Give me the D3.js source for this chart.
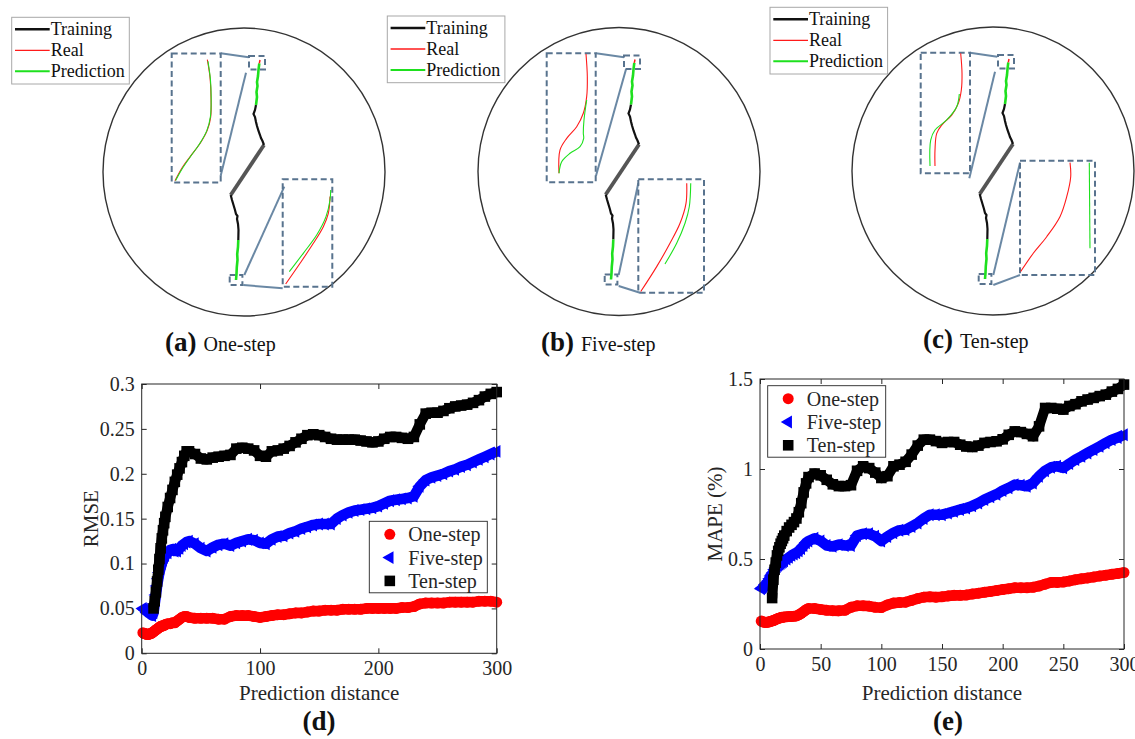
<!DOCTYPE html>
<html>
<head>
<meta charset="utf-8">
<script src="https://cdn.jsdelivr.net/npm/d3@7"></script>
<style>
body { margin: 0; background: #fff; }
svg text { font-family: "Liberation Serif", "Times New Roman", serif; }
</style>
</head>
<body>
<svg id="fig" width="1135" height="739"></svg>
<script>
// ---------------- data for (d) and (e) ----------------
var distance = [1,2,3,4,5,6,7,8,9,10,11,12,13,14,15,16,17,18,19,20,
    22,24,26,28,30,32,34,36,38,40,
    45,50,55,60,65,70,75,80,85,90,95,100,
    105,110,115,120,125,130,135,140,145,150,
    155,160,165,170,175,180,185,190,195,200,
    205,210,215,220,225,230,235,240,245,250,
    255,260,265,270,275,280,285,290,295,300]

var rmseOne = [.023,.022,.022,.021,.021,.021,.022,.022,.023,.024,.025,.026,.027,.028,.029,.030,.030,.031,.031,.032,
    .033,.033,.034,.034,.036,.038,.040,.041,.041,.040,
    .039,.039,.039,.039,.038,.038,.041,.042,.042,.042,.041,.040,
    .041,.042,.043,.043,.044,.045,.045,.046,.047,.047,
    .048,.048,.048,.049,.049,.049,.049,.050,.050,.050,
    .050,.050,.050,.051,.051,.052,.055,.056,.056,.056,
    .056,.057,.057,.057,.057,.057,.058,.058,.058,.057]
var rmseFive = [.050,.049,.048,.047,.046,.045,.044,.043,.042,.045,.055,.065,.075,.083,.090,.095,.100,.104,.107,.109,
    .112,.115,.116,.114,.114,.117,.120,.122,.124,.125,
    .122,.117,.114,.118,.121,.122,.120,.123,.125,.127,.126,.123,
    .122,.127,.130,.131,.134,.136,.139,.141,.143,.144,
    .144,.144,.150,.154,.157,.159,.160,.161,.162,.164,
    .167,.170,.171,.172,.173,.175,.186,.193,.196,.198,
    .200,.203,.205,.208,.210,.213,.216,.219,.222,.225]
var rmseTen = [null,null,null,null,null,null,null,null,null,.050,.058,.068,.080,.093,.105,.117,.128,.137,.145,.152,
    .163,.173,.182,.191,.199,.206,.213,.220,.225,.225,
    .222,.217,.216,.218,.219,.220,.221,.228,.229,.228,.226,.220,
    .219,.225,.226,.228,.231,.235,.239,.243,.244,.243,
    .241,.239,.238,.238,.238,.238,.237,.236,.235,.236,
    .239,.241,.241,.240,.239,.241,.255,.267,.268,.268,
    .270,.273,.275,.276,.277,.279,.282,.286,.289,.291]

var mapeOne = [.155,.152,.150,.148,.148,.149,.150,.152,.154,.156,.158,.161,.164,.167,.170,.172,.174,.176,.177,.178,
    .179,.180,.181,.182,.184,.190,.198,.208,.218,.225,
    .225,.220,.215,.213,.212,.215,.232,.240,.240,.238,.232,.230,
    .245,.255,.258,.260,.270,.280,.288,.290,.288,.290,
    .295,.298,.298,.300,.305,.310,.315,.320,.325,.330,
    .335,.340,.340,.340,.343,.350,.360,.370,.370,.372,
    .378,.385,.390,.395,.400,.405,.410,.415,.420,.425]
var mapeFive = [.335,.340,.345,.352,.360,.368,.378,.390,.405,.415,.425,.440,.450,.458,.465,.470,.475,.480,.485,.490,
    .500,.510,.520,.528,.535,.545,.558,.575,.590,.600,
    .615,.600,.575,.570,.580,.575,.575,.630,.640,.640,.626,.600,
    .625,.645,.660,.663,.680,.700,.725,.746,.746,.746,
    .755,.765,.775,.783,.795,.811,.830,.845,.860,.880,
    .895,.913,.910,.904,.922,.960,.990,1.010,1.015,1.006,
    1.030,1.052,1.070,1.089,1.108,1.126,1.145,1.163,1.175,1.190]
var mapeTen = [null,null,null,null,null,null,null,null,null,.283,.385,.440,.480,.520,.545,.565,.585,.600,.615,.630,
    .655,.675,.690,.705,.725,.760,.810,.870,.920,.955,
    .975,.965,.940,.915,.905,.905,.910,.990,1.015,1.005,.980,.950,
    .960,1.015,1.024,1.040,1.080,1.130,1.163,1.163,1.155,1.145,
    1.150,1.150,1.135,1.125,1.122,1.130,1.145,1.150,1.154,1.165,
    1.190,1.209,1.205,1.195,1.182,1.237,1.339,1.339,1.335,1.330,
    1.350,1.360,1.376,1.386,1.395,1.405,1.413,1.430,1.445,1.469]

var ticksDistD = [0,100,200,300]
var ticksDistE = [0,50,100,150,200,250,300]
var ticksRmse = [0,0.05,0.1,0.15,0.2,0.25,0.3]
var labelsRmse = ["0","0.05","0.1","0.15","0.2","0.25","0.3"]
var ticksMape = [0,0.5,1,1.5]
var labelsMape = ["0","0.5","1","1.5"]
var seriesNames = ["One-step","Five-step","Ten-step"]
var trackNames = ["Training","Real","Prediction"]

// ---------------- trajectory (map units, origin = circle centre) ----------------
var trainTop = [[12,-67],[11,-62],[9.5,-58],[11,-55],[12,-50],[13,-46],[14.5,-41],[16,-37],[17,-34],[18.5,-31],[20,-27]]
var trainGap = [[20,-27],[-13.3,23]]
var trainBottom = [[-13.3,23],[-12,28],[-10.5,33],[-9,38],[-8,42],[-6.5,44],[-7,47],[-6,52],[-5.5,58],[-5.7,68]]
var predTop = [[15.3,-108.7],[14.5,-102],[14,-96],[13,-90],[13.5,-86],[12.5,-80],[13,-75],[12,-67]]
var predBottom = [[-5.7,68],[-6,75],[-6.8,82],[-6.5,88],[-7.2,95],[-7.5,102],[-8,108]]
var realTip = [[15.3,-108.7],[16,-112]]
var smallBoxTop = [5,-116,16,13.5]
var smallBoxBottom = [-14.3,103,12.7,10]

// zoom windows [x, y, w, h] and the lines that tie them to the small boxes
var zoomUpper = [[-72.3,-118.5,49,129],[-72.3,-118.2,49,129],[-72.3,-118.3,49.3,120.6]]
var zoomLower = [[38.7,7.3,49.6,107.4],[19.3,7.8,65.7,113.4],[27,-10.3,75,114.3]]
var links = [
    [[[-23.3,-118.7],[4.7,-114.7]],[[-23.3,3.7],[2,-99.3]],[[0.3,103],[40.3,14.7]],[[-0.7,113],[38.7,116.3]]],
    [[[-23,-118.2],[5,-114.2]],[[-23,4.2],[7,-102.2]],[[-0.3,103.5],[19.3,11.8]],[[-0.3,114.5],[21,121.2]]],
    [[[-23,-118.3],[4.3,-114.3]],[[-23.7,7.3],[2,-99.3]],[[0.3,104],[27,-8.3]],[[0.3,114],[27,104]]]
]
// curves inside the zoom windows, window units 0..1
var upperReal = [
    [[0.727,0.047],[0.781,0.182],[0.802,0.336],[0.796,0.491],[0.727,0.594],[0.578,0.698],[0.374,0.801],[0.204,0.891],[0.067,0.987]],
    [[0.802,0.005],[0.829,0.181],[0.816,0.336],[0.747,0.465],[0.612,0.569],[0.408,0.659],[0.271,0.75],[0.251,0.93]],
    [[0.811,0.005],[0.838,0.171],[0.824,0.309],[0.763,0.42],[0.629,0.517],[0.426,0.6],[0.325,0.669],[0.29,0.807],[0.29,0.94]]
]
var upperPred = [
    [[0.74,0.06],[0.79,0.2],[0.805,0.34],[0.79,0.49],[0.715,0.6],[0.57,0.7],[0.39,0.795],[0.22,0.89],[0.08,0.985]],
    [[0.816,0.362],[0.761,0.517],[0.747,0.62],[0.755,0.66],[0.68,0.724],[0.476,0.775],[0.306,0.84],[0.251,0.93]],
    [[0.783,0.342],[0.73,0.448],[0.527,0.558],[0.29,0.641],[0.203,0.724],[0.189,0.94]]
]
var lowerReal = [
    [[0.06,0.975],[0.35,0.782],[0.618,0.596],[0.819,0.441],[0.92,0.317],[0.954,0.161]],
    [[0.737,0.035],[0.726,0.212],[0.635,0.388],[0.482,0.564],[0.28,0.77],[0.037,0.99]],
    [[0.667,0.017],[0.676,0.14],[0.623,0.315],[0.533,0.49],[0.356,0.665],[0.177,0.81],[0.009,0.97]]
]
var lowerPred = [
    [[0.133,0.86],[0.415,0.689],[0.685,0.519],[0.873,0.348],[0.954,0.193],[0.968,0.1]],
    [[0.798,0.035],[0.776,0.242],[0.711,0.388],[0.584,0.564],[0.406,0.747]],
    [[0.924,0.017],[0.933,0.766]]
]
var panelLetters = ["(a)","(b)","(c)"]

// ---------------- layout ----------------
var svg = d3.select("#fig")
var panelLayout = [
    {cx: 244, cy: 172, legX: 11.7, legY: 17.3, capX: 165, capY: 351},
    {cx: 619, cy: 171.5, legX: 387.3, legY: 16, capX: 541, capY: 351},
    {cx: 993, cy: 171, legX: 770, legY: 7.3, capX: 923, capY: 348}
]
var boxColor = "#58738e"
var linkColor = "#6a88a4"
var green = "#1ee01e"
var red = "#ff1a1a"

function drawPanel(i) {
    var lay = panelLayout[i]
    var g = svg.append("g")
    var sx = d3.scaleLinear().domain([-141, 141]).range([lay.cx - 141, lay.cx + 141])
    var sy = d3.scaleLinear().domain([-144, 144]).range([lay.cy - 144, lay.cy + 144])
    var line = d3.line().x(d => sx(d[0])).y(d => sy(d[1]))

    g.append("ellipse")
        .attr("cx", sx(0)).attr("cy", sy(0))
        .attr("rx", sx(141) - sx(0)).attr("ry", sy(144) - sy(0))
        .attr("fill", "none").attr("stroke", "#333").attr("stroke-width", 1.4)

    // connectors
    g.selectAll(".lk").data(links[i]).join("path")
        .attr("d", line)
        .attr("fill", "none").attr("stroke", linkColor).attr("stroke-width", 2)

    // dashed boxes
    var rects = [smallBoxTop, smallBoxBottom, zoomUpper[i], zoomLower[i]]
    g.selectAll(".bx").data(rects).join("rect")
        .attr("x", d => sx(d[0])).attr("y", d => sy(d[1]))
        .attr("width", d => sx(d[0] + d[2]) - sx(d[0]))
        .attr("height", d => sy(d[1] + d[3]) - sy(d[1]))
        .attr("fill", "none").attr("stroke", boxColor).attr("stroke-width", 2)
        .attr("stroke-dasharray", "6,3.5")

    // curves inside the zoom windows
    function zoomCurve(box, pts, color, w) {
        var bx = d3.scaleLinear().domain([0, 1]).range([sx(box[0]), sx(box[0] + box[2])])
        var by = d3.scaleLinear().domain([0, 1]).range([sy(box[1]), sy(box[1] + box[3])])
        g.append("path")
            .attr("d", d3.line().curve(d3.curveCatmullRom).x(d => bx(d[0])).y(d => by(d[1]))(pts))
            .attr("fill", "none").attr("stroke", color).attr("stroke-width", w)
    }
    zoomCurve(zoomUpper[i], upperReal[i], red, 1.1)
    zoomCurve(zoomUpper[i], upperPred[i], green, 1.1)
    zoomCurve(zoomLower[i], lowerReal[i], red, 1.1)
    zoomCurve(zoomLower[i], lowerPred[i], green, 1.1)

    // trajectory
    g.append("path").attr("d", line(trainGap)).attr("fill", "none")
        .attr("stroke", "#555").attr("stroke-width", 3.8)
    g.selectAll(".tr").data([trainTop, trainBottom]).join("path")
        .attr("d", line).attr("fill", "none").attr("stroke", "#111").attr("stroke-width", 2.2)
    g.selectAll(".pr").data([predTop, predBottom]).join("path")
        .attr("d", line).attr("fill", "none").attr("stroke", green).attr("stroke-width", 2.6)
    g.append("path").attr("d", line(realTip)).attr("fill", "none")
        .attr("stroke", red).attr("stroke-width", 1.5)

    // legend
    var leg = g.append("g").attr("transform", "translate(" + lay.legX + "," + lay.legY + ")")
    leg.append("rect").attr("width", 117.6).attr("height", 66.7)
        .attr("fill", "#fff").attr("stroke", "#a8a8a8").attr("stroke-width", 1)
    var legColors = ["#111", red, green]
    var legWidths = [2.6, 1.3, 2]
    trackNames.forEach(function(nome, k) {
        var yy = 12 + k * 21
        leg.append("line").attr("x1", 3.3).attr("x2", 38).attr("y1", yy).attr("y2", yy)
            .attr("stroke", legColors[k]).attr("stroke-width", legWidths[k])
        leg.append("text").attr("x", 39).attr("y", yy + 6).attr("font-size", 18)
            .attr("fill", "#111").text(nome)
    })

    // caption
    var cap = svg.append("text").attr("x", lay.capX).attr("y", lay.capY).attr("fill", "#111")
    cap.append("tspan").attr("font-size", 27).attr("font-weight", "bold").text(panelLetters[i])
    cap.append("tspan").attr("font-size", 20).attr("dx", 7).text(seriesNames[i])
}

panelLayout.forEach((p, i) => drawPanel(i))

// ---------------- metric charts ----------------
var sym = {
    circle: d3.symbol(d3.symbolCircle, 95)(),
    tri: d3.symbol(d3.symbolTriangle, 72)(),
    square: d3.symbol(d3.symbolSquare, 112)()
}
var seriesStyle = [
    {tipo: "circle", cor: "#ff0000", banda: 10.6},
    {tipo: "tri", cor: "#0000ff", banda: 10.6},
    {tipo: "square", cor: "#000000", banda: 10.2}
]

function place(tipo, x, y) {
    return "translate(" + x + "," + y + ")" + (tipo == "tri" ? " rotate(-90)" : "")
}

function drawChart(cfg) {
    var g = svg.append("g")
    var x = d3.scaleLinear().domain([0, 300]).range([cfg.x0, cfg.x1])
    var y = d3.scaleLinear().domain([0, cfg.yMax]).range([cfg.y1, cfg.y0])
    var ink = "#262626"

    function estilo(ax) {
        ax.attr("font-family", "Liberation Serif, Times New Roman, serif").attr("font-size", 20)
        ax.select(".domain").remove()
        ax.selectAll(".tick line").attr("stroke", ink)
        ax.selectAll(".tick text").attr("fill", ink)
    }

    g.append("g").attr("transform", "translate(0," + cfg.y1 + ")")
        .call(d3.axisBottom(x).tickValues(cfg.xTicks).tickSize(-5).tickPadding(8).tickFormat(d => d))
        .call(estilo)
    g.append("g").attr("transform", "translate(0," + cfg.y0 + ")")
        .call(d3.axisTop(x).tickValues(cfg.xTicks).tickSize(-5).tickFormat(""))
        .call(estilo)
    g.append("g").attr("transform", "translate(" + cfg.x0 + ",0)")
        .call(d3.axisLeft(y).tickValues(cfg.yTicks).tickSize(-5).tickPadding(7).tickFormat((d, i) => cfg.yLabels[i]))
        .call(estilo)
    g.append("g").attr("transform", "translate(" + cfg.x1 + ",0)")
        .call(d3.axisRight(y).tickValues(cfg.yTicks).tickSize(-5).tickFormat(""))
        .call(estilo)

    // series: dense markers, they merge into a thick band
    cfg.series.forEach(function(vals, k) {
        var st = seriesStyle[k]
        var pts = distance.map((d, j) => [d, vals[j]]).filter(p => p[1] != null)
        g.append("path").datum(pts)
            .attr("d", d3.line().x(p => x(p[0])).y(p => y(p[1])))
            .attr("fill", "none").attr("stroke", st.cor).attr("stroke-width", st.banda)
            .attr("stroke-linejoin", "round")
        g.append("g").selectAll("path").data(pts).join("path")
            .attr("d", sym[st.tipo])
            .attr("transform", p => place(st.tipo, x(p[0]), y(p[1])))
            .attr("fill", st.cor)
    })

    g.append("rect").attr("x", cfg.x0).attr("y", cfg.y0)
        .attr("width", cfg.x1 - cfg.x0).attr("height", cfg.y1 - cfg.y0)
        .attr("fill", "none").attr("stroke", ink).attr("stroke-width", 1)

    // legend
    var leg = g.append("g").attr("transform", "translate(" + cfg.legX + "," + cfg.legY + ")")
    leg.append("rect").attr("width", 118).attr("height", 71.5)
        .attr("fill", "#fff").attr("stroke", ink).attr("stroke-width", 0.9)
    seriesNames.forEach(function(nome, k) {
        var st = seriesStyle[k]
        var yy = 13 + k * 23.3
        leg.append("path").attr("d", sym[st.tipo]).attr("transform", place(st.tipo, 20.5, yy)).attr("fill", st.cor)
        leg.append("text").attr("x", 39).attr("y", yy + 7).attr("font-size", 20).attr("fill", ink).text(nome)
    })

    // titles
    svg.append("text").attr("x", (cfg.x0 + cfg.x1) / 2).attr("y", 700)
        .attr("text-anchor", "middle").attr("font-size", 21).attr("fill", ink).text("Prediction distance")
    svg.append("text").attr("transform", "translate(" + cfg.yTitleX + "," + (cfg.y0 + cfg.y1) / 2 + ") rotate(-90)")
        .attr("text-anchor", "middle").attr("font-size", 21).attr("fill", ink).text(cfg.yTitle)
    svg.append("text").attr("x", cfg.capX).attr("y", 730)
        .attr("text-anchor", "middle").attr("font-size", 27).attr("font-weight", "bold").attr("fill", "#111")
        .text(cfg.cap)
}

drawChart({
    x0: 141.7, x1: 496.7, y0: 384, y1: 653.3, yMax: 0.3,
    xTicks: ticksDistD, yTicks: ticksRmse, yLabels: labelsRmse,
    series: [rmseOne, rmseFive, rmseTen],
    legX: 369.3, legY: 521.3, yTitle: "RMSE", yTitleX: 98, cap: "(d)", capX: 319
})
drawChart({
    x0: 760, x1: 1124, y0: 379, y1: 649, yMax: 1.5,
    xTicks: ticksDistE, yTicks: ticksMape, yLabels: labelsMape,
    series: [mapeOne, mapeFive, mapeTen],
    legX: 767.7, legY: 385.7, yTitle: "MAPE (%)", yTitleX: 722, cap: "(e)", capX: 948
})
</script>
</body>
</html>
